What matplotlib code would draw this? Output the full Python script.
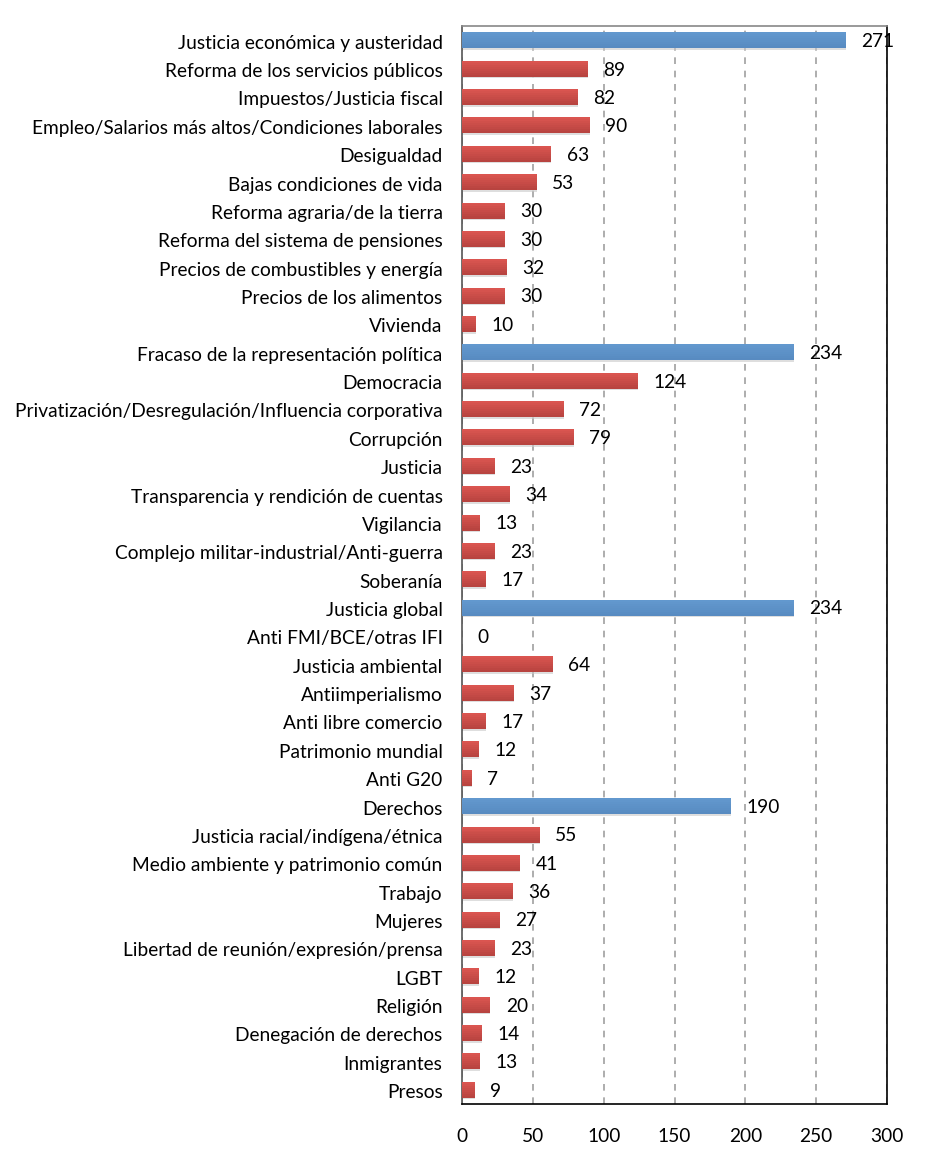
import matplotlib.pyplot as plt
import numpy as np

plt.rcParams['font.family'] = ['Lato', 'DejaVu Sans']

# categories, top to bottom
categorias = [
    "Justicia económica y austeridad",
    "Reforma de los servicios públicos",
    "Impuestos/Justicia fiscal",
    "Empleo/Salarios más altos/Condiciones laborales",
    "Desigualdad",
    "Bajas condiciones de vida",
    "Reforma agraria/de la tierra",
    "Reforma del sistema de pensiones",
    "Precios de combustibles y energía",
    "Precios de los alimentos",
    "Vivienda",
    "Fracaso de la representación política",
    "Democracia",
    "Privatización/Desregulación/Influencia corporativa",
    "Corrupción",
    "Justicia",
    "Transparencia y rendición de cuentas",
    "Vigilancia",
    "Complejo militar-industrial/Anti-guerra",
    "Soberanía",
    "Justicia global",
    "Anti FMI/BCE/otras IFI",
    "Justicia ambiental",
    "Antiimperialismo",
    "Anti libre comercio",
    "Patrimonio mundial",
    "Anti G20",
    "Derechos",
    "Justicia racial/indígena/étnica",
    "Medio ambiente y patrimonio común",
    "Trabajo",
    "Mujeres",
    "Libertad de reunión/expresión/prensa",
    "LGBT",
    "Religión",
    "Denegación de derechos",
    "Inmigrantes",
    "Presos",
]
valores = [271, 89, 82, 90, 63, 53, 30, 30, 32, 30, 10,
           234, 124, 72, 79, 23, 34, 13, 23, 17,
           234, 0, 64, 37, 17, 12, 7,
           190, 55, 41, 36, 27, 23, 12, 20, 14, 13, 9]
grupos = ["Justicia económica y austeridad", "Fracaso de la representación política",
          "Justicia global", "Derechos"]

y = np.arange(len(categorias))
es_grupo = [c in grupos for c in categorias]

fig = plt.figure(figsize=(9.3, 11.59), dpi=100)
ax = fig.add_axes([0.4968, 0.0475, 0.457, 0.930])

h = 0.56
fs = 13.8
# soft shadow under the bars
ax.barh(y + 0.06, valores, height=h, color='#c8c8c8', alpha=0.6, zorder=2)

# bars with a light top-to-bottom gradient, done as thin strips
n = 8
azul = np.array([0x62, 0x98, 0xCE]) / 255, np.array([0x58, 0x8B, 0xC1]) / 255
rojo = np.array([0xDA, 0x55, 0x50]) / 255, np.array([0xB8, 0x44, 0x40]) / 255
for k in range(n):
    t = k / (n - 1)
    cols = []
    for g in es_grupo:
        a, b = azul if g else rojo
        cols.append(tuple(a * (1 - t) + b * t))
    ax.barh(y - h / 2 + k * h / n, valores, height=h / n + 0.005, align='edge',
            color=cols, linewidth=0, zorder=3)

for yi, v in zip(y, valores):
    ax.annotate(str(v), (v, yi + 0.05), xytext=(11, 0), textcoords='offset points',
                va='center', ha='left', fontsize=fs)

ax.set_xlim(0, 300)
ax.set_ylim(len(categorias) - 0.5, -0.5)
ax.set_xticks(range(0, 301, 50))
ax.set_yticks(y + 0.05)
ax.set_yticklabels(categorias, fontsize=fs)
ax.tick_params(axis='both', length=0, labelsize=fs)
ax.tick_params(axis='x', pad=17)
ax.tick_params(axis='y', pad=14)

ax.xaxis.grid(True, linestyle=(0, (4, 4)), color='#a0a0a0', linewidth=1.2, zorder=1)
ax.set_axisbelow(True)
ax.spines['top'].set_color('#888888')
ax.spines['left'].set_color('#555555')
ax.spines['bottom'].set_color('black')
ax.spines['right'].set_color('black')
for s in ax.spines.values():
    s.set_linewidth(1.2)

plt.savefig("out.png", dpi=100)
